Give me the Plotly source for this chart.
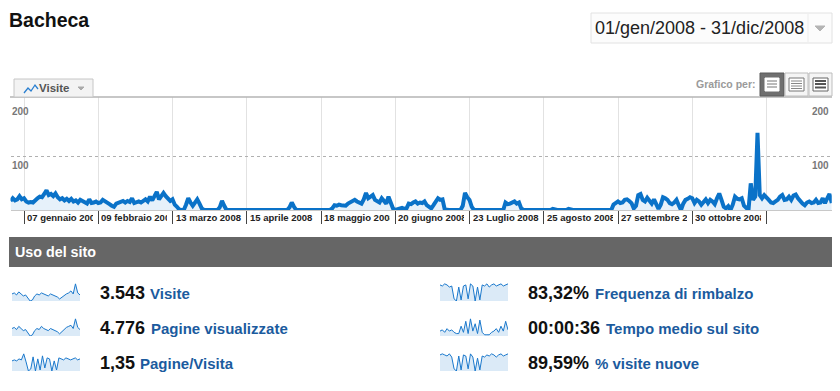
import plotly.graph_objects as go
import pandas as pd

W, H = 840, 391

# ---------------- data ----------------
visits_jan = [17, 22, 18, 20, 26, 20, 22, 16, 14, 15, 14, 19, 22, 25, 24, 30, 37, 28, 30, 26, 31, 24, 20, 22, 18, 21, 17, 21, 16, 18, 14]
visits_feb = [19, 16, 15, 12, 20, 13, 14, 16, 13, 14, 19, 17, 14, 11, 8, 6, 12, 14, 16, 17, 14, 17, 15, 22, 13, 14, 16, 14, 17]
visits_mar = [20, 16, 25, 18, 28, 34, 20, 27, 32, 26, 22, 17, 20, 10, 6, 1, 0, 0, 10, 22, 14, 8, 14, 20, 12, 3, 0, 0, 0, 0, 0]
visits_apr = [0, 0, 5, 17, 8] + [0] * 25
visits_may = [0, 0, 0, 5, 14, 6] + [0] * 16 + [3, 9, 8, 10, 9, 9, 8, 12, 14]
visits_jun = [17, 19, 16, 14, 12, 20, 32, 22, 24, 28, 19, 17, 14, 22, 17, 12, 25, 16, 3, 0, 1, 3, 4, 2, 3, 12, 11, 14, 16, 12]
visits_jul = [14, 13, 16, 9, 5, 3, 9, 15, 22, 19, 20, 1] + [0] * 7 + [8, 32, 24, 19, 6] + [0] * 7
visits_aug = [0] * 7 + [14, 11, 12, 15, 16, 12, 14, 3] + [0] * 13 + [2, 0, 0]
visits_sep = [0] * 4 + [2] + [0] * 19 + [10, 13, 16, 13, 14, 19]
visits_oct = [20, 17, 13, 3, 8, 28, 30, 19, 16, 23, 16, 12, 20, 12, 2, 10, 24, 22, 19, 13, 11, 14, 19, 9, 0, 12, 19, 21, 24, 22, 13]
visits_nov = [19, 16, 10, 14, 20, 13, 19, 16, 11, 22, 31, 19, 6, 3, 7, 0, 10, 25, 21, 20, 22, 8, 3, 0, 50, 19, 25, 145, 28, 22]
visits_dec = [28, 22, 19, 14, 13, 16, 19, 25, 28, 19, 20, 25, 19, 27, 29, 22, 16, 12, 9, 14, 16, 13, 14, 19, 13, 14, 22, 13, 22, 30, 13]

visits = (visits_jan + visits_feb + visits_mar + visits_apr + visits_may + visits_jun +
          visits_jul + visits_aug + visits_sep + visits_oct + visits_nov + visits_dec)
dates = pd.date_range("2008-01-01", "2008-12-31", freq="D")

tick_dates = ["2008-01-07", "2008-02-09", "2008-03-13", "2008-04-15", "2008-05-18", "2008-06-20",
              "2008-07-23", "2008-08-25", "2008-09-27", "2008-10-30", "2008-12-02"]
tick_labels = ["07 gennaio 2008", "09 febbraio 2008", "13 marzo 2008", "15 aprile 2008", "18 maggio 2008",
               "20 giugno 2008", "23 Luglio 2008", "25 agosto 2008", "27 settembre 2008", "30 ottobre 2008"]
y_labels = [200, 100]

metric_values = ["3.543", "4.776", "1,35", "83,32%", "00:00:36", "89,59%"]
metric_names = ["Visite", "Pagine visualizzate", "Pagine/Visita", "Frequenza di rimbalzo",
                "Tempo medio sul sito", "% visite nuove"]

spark_visite = [7, 8, 6, 9, 7, 5, 6, 3, 0, 1, 5, 7, 6, 8, 7, 6, 5, 7, 6, 5, 4, 2, 4, 6, 7, 8, 10, 7, 17, 8, 6]
spark_pagine = [7, 8, 6, 9, 7, 5, 6, 3, 0, 1, 5, 7, 6, 9, 7, 6, 5, 7, 6, 5, 4, 2, 4, 6, 8, 9, 10, 7, 16, 8, 6]
spark_pag_visita = [10, 11, 10, 12, 11, 17, 9, 0, 2, 14, 0, 12, 1, 15, 3, 13, 12, 0, 10, 1, 13, 12, 11, 13, 12, 11, 12, 13, 11, 12]
spark_rimbalzo = [15, 14, 16, 15, 13, 14, 2, 0, 13, 1, 14, 15, 2, 16, 14, 0, 13, 1, 15, 14, 16, 13, 15, 16, 14, 15, 16, 14, 15, 16]
spark_tempo = [4, 5, 3, 6, 4, 5, 3, 2, 2, 8, 3, 12, 2, 14, 4, 10, 2, 13, 3, 1, 1, 1, 3, 4, 6, 3, 8, 4, 12, 5]
spark_nuove = [15, 16, 15, 14, 16, 13, 2, 0, 14, 1, 15, 14, 2, 16, 13, 0, 12, 1, 14, 13, 15, 14, 16, 15, 13, 15, 16, 14, 15, 16]
sparks = [spark_visite, spark_pagine, spark_pag_visita, spark_rimbalzo, spark_tempo, spark_nuove]

# ---------------- helpers ----------------
def px(x):
    return x / W

def py(y):
    return 1 - y / H

FONT = "Liberation Sans, Arial, sans-serif"
BLUE = "#0a72c8"

fig = go.Figure()

# main chart
fig.add_trace(go.Scatter(
    x=dates, y=visits, mode="lines",
    line=dict(color=BLUE, width=4, shape="linear"),
    fill="tozeroy", fillcolor="#e6f1fa",
    hoverinfo="skip", showlegend=False,
    xaxis="x", yaxis="y",
))

layout = dict(
    width=W, height=H,
    margin=dict(l=0, r=0, t=0, b=0),
    paper_bgcolor="white", plot_bgcolor="white",
    font=dict(family=FONT),
    showlegend=False,
    xaxis=dict(
        domain=[px(10.5), px(831.75)], type="date",
        range=["2008-01-01", "2008-12-31"],
        tickvals=tick_dates, showticklabels=False,
        showgrid=True, gridcolor="#e2e2e2", gridwidth=1,
        ticks="outside", ticklen=13, tickcolor="#444", tickwidth=1,
        showline=True, linecolor="#c8c8c8", linewidth=1,
        zeroline=False, fixedrange=True,
    ),
    yaxis=dict(
        domain=[py(210), py(97)], range=[0, 212],
        tickvals=[100], showticklabels=False,
        showgrid=True, gridcolor="#b0b0b0", griddash="dot", gridwidth=1,
        zeroline=False, showline=False, fixedrange=True,
    ),
)

# sparklines
spark_boxes = [
    (12, 80, 283, 301), (12, 80, 318, 336), (12, 80, 353, 371),
    (440, 508, 283, 301), (440, 508, 318, 336), (440, 508, 353, 371),
]
for i, (vals, (x0, x1, y0, y1)) in enumerate(zip(sparks, spark_boxes)):
    n = i + 2
    fig.add_trace(go.Scatter(
        x=list(range(len(vals))), y=vals, mode="lines",
        line=dict(color="#1a78cc", width=1),
        fill="tozeroy", fillcolor="#dbeaf7",
        hoverinfo="skip", showlegend=False,
        xaxis=f"x{n}", yaxis=f"y{n}",
    ))
    layout[f"xaxis{n}"] = dict(domain=[px(x0), px(x1)], range=[0, len(vals) - 1],
                               visible=False, fixedrange=True)
    layout[f"yaxis{n}"] = dict(domain=[py(y1), py(y0)], range=[0, max(vals) * 1.05],
                               visible=False, fixedrange=True)

fig.update_layout(**layout)

# ---------------- shapes (decorations) ----------------
def rect(x0, y0, x1, y1, fill, line="rgba(0,0,0,0)", lw=1):
    return dict(type="rect", xref="paper", yref="paper",
                x0=px(x0), x1=px(x1), y0=py(y1), y1=py(y0),
                fillcolor=fill, line=dict(color=line, width=lw), layer="above")

def hline(x0, x1, y, color, lw=1):
    return dict(type="line", xref="paper", yref="paper",
                x0=px(x0), x1=px(x1), y0=py(y), y1=py(y),
                line=dict(color=color, width=lw), layer="above")

def vline(x, y0, y1, color, lw=1):
    return dict(type="line", xref="paper", yref="paper",
                x0=px(x), x1=px(x), y0=py(y0), y1=py(y1),
                line=dict(color=color, width=lw), layer="above")

def path(pts, fill=None, color="#aaa", lw=1, closed=False):
    d = "M " + " L ".join(f"{px(x)},{py(y)}" for x, y in pts)
    if closed:
        d += " Z"
    s = dict(type="path", xref="paper", yref="paper", path=d,
             line=dict(color=color, width=lw), layer="above")
    if fill:
        s["fillcolor"] = fill
    return s

shapes = []
# date range box
shapes.append(rect(591, 13, 832, 43, "#fcfcfc", "#e2e2e2"))
shapes.append(vline(808, 14, 42, "#ececec"))
shapes.append(path([(815, 26), (825, 26), (820, 31)], fill="#b5b5b5", color="#b5b5b5", closed=True))
# top border of chart
shapes.append(hline(10, 832, 97, "#b4b4b4", 1.5))
# tab "Visite"
shapes.append(rect(14, 79, 93, 97, "#f3f3f3", "#c6c6c6"))
shapes.append(path([(24, 93), (28, 88), (31, 91), (35, 85), (38, 89)], color="#2a7fd0", lw=1.3))
shapes.append(path([(78, 87), (84, 87), (81, 90)], fill="#aaaaaa", color="#aaaaaa", closed=True))
# chart view buttons
shapes.append(rect(760, 73, 784, 96, "#6f6f6f", "#5a5a5a"))
shapes.append(rect(765, 78, 779, 91, "white", "white"))
for yy in (81, 84, 87):
    shapes.append(hline(767, 777, yy, "#777", 1))
shapes.append(rect(785, 73, 808, 96, "#f5f5f5", "#bdbdbd"))
shapes.append(rect(789, 78, 804, 91, "white", "#777"))
for yy in (81, 83.5, 86, 88.5):
    shapes.append(hline(791, 802, yy, "#888", 1))
shapes.append(rect(809, 73, 832, 96, "#f5f5f5", "#bdbdbd"))
shapes.append(rect(813, 78, 828, 91, "white", "#666"))
for yy in (81, 84, 87.5):
    shapes.append(hline(815, 826, yy, "#555", 2))
# section header bar
shapes.append(rect(9, 237, 832, 267, "#666666"))
fig.update_layout(shapes=shapes)

# ---------------- annotations (text) ----------------
ann = []

def text(x, y, s, size, color, bold=False, xanchor="left", family=FONT, **kw):
    t = f"<b>{s}</b>" if bold else s
    d = dict(xref="paper", yref="paper", x=px(x), y=py(y), text=t, showarrow=False,
             xanchor=xanchor, yanchor="middle", font=dict(size=size, color=color, family=family),
             borderpad=0)
    d.update(kw)
    return d

ann.append(text(8, 20, "Bacheca", 19.5, "#111", bold=True))
ann.append(text(594, 28, "01/gen/2008 - 31/dic/2008", 18, "#222"))
ann.append(text(757, 84, "Grafico per:", 10.5, "#9a9a9a", bold=True, xanchor="right"))
ann.append(text(38, 88, "Visite", 11.5, "#555", bold=True))
ann.append(text(14, 252, "Uso del sito", 14.3, "white", bold=True))

# y labels (left and right) placed through the y scale
for v in y_labels:
    for xx, xa in ((10, "left"), (831, "right")):
        ann.append(dict(xref="paper", yref="y", x=px(xx), y=v, text=f"<b>{v}</b>",
                        showarrow=False, xanchor=xa, yanchor="top", yshift=-1,
                        font=dict(size=10, color="#777", family=FONT)))

# x labels, clipped at the next separator
for d, lab in zip(tick_dates, tick_labels):
    ann.append(dict(xref="x", yref="paper", x=d, y=py(211), text=f"<b>{lab}</b>",
                    showarrow=False, xanchor="left", yanchor="top", xshift=2,
                    width=66, align="left", borderpad=0,
                    font=dict(size=9.5, color="#222", family=FONT)))

# metrics
label_x = [149, 149.5, 139, 594, 604.5, 594]
value_x = [98.5, 98.5, 98.5, 526.5, 526.5, 526.5]
row_y = [293, 328, 363, 293, 328, 363]
for v, name, vx, lx, ry in zip(metric_values, metric_names, value_x, label_x, row_y):
    ann.append(text(vx, ry, v, 18, "#111", bold=True))
    ann.append(text(lx, ry + 0.5, name, 15, "#1b5b9e", bold=True))

fig.update_layout(annotations=ann)

fig.write_html("out.html")
